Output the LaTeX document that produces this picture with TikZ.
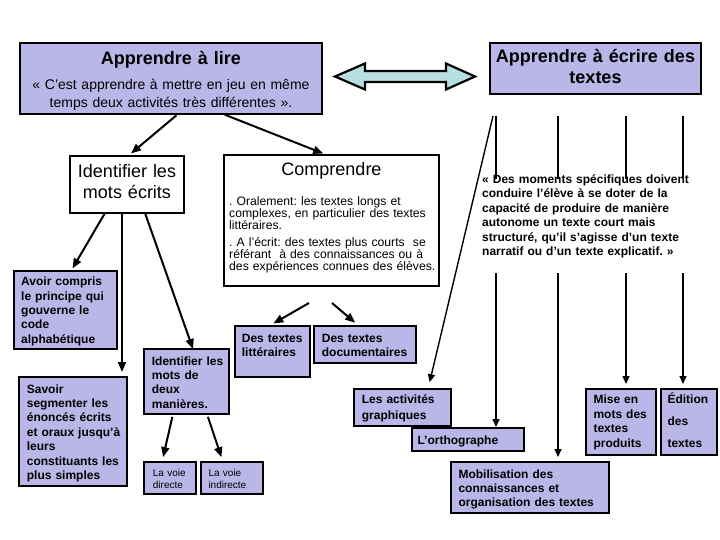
\documentclass[tikz,border=0pt]{standalone}
\usepackage{fontspec}
\setmainfont{Liberation Sans}
\usetikzlibrary{arrows.meta}
\definecolor{lavc}{RGB}{186,182,232}
\definecolor{cyanc}{RGB}{183,222,224}
\lineskiplimit=-30pt
\frenchspacing
\begin{document}
\begin{tikzpicture}[x=1pt,y=-1pt,
  box/.style={draw=black, line width=1.1pt, inner sep=0pt, outer sep=0pt, anchor=north west},
  lav/.style={box, fill=lavc},
  wht/.style={box, fill=white},
  tx/.style={inner sep=0pt, anchor=base west, align=left, text width=220pt},
  txc/.style={inner sep=0pt, anchor=base, align=center, text width=300pt},
  fb/.style={font=\fontsize{12}{14.4}\selectfont\bfseries},
  arr/.style={line width=2pt, -{Triangle[length=10pt,width=8pt]}},
  arrt/.style={line width=1.4pt, -{Triangle[length=8pt,width=7pt]}}
]
\fill[white] (0,0) rectangle (720,540);
\useasboundingbox (0,0) rectangle (720,540);

% ---- top boxes
\node[lav, minimum width=302pt, minimum height=71pt] (lire) at (20,43) {};
\node[txc, font=\fontsize{18}{21}\selectfont\bfseries] (lireT) at (171,64.3) {Apprendre à lire};
\node[txc, font=\fontsize{14}{17.7}\selectfont] (lireS) at (171,90) {« C'est apprendre à mettre en jeu en même\\temps deux activités très différentes ».};

\node[lav, minimum width=211pt, minimum height=51pt] (ecr) at (490,43) {};
\node[txc, text width=211pt, font=\fontsize{18}{21}\selectfont\bfseries] (ecrT) at (595.5,63) {Apprendre à écrire des\\textes};

% double arrow
\draw[line width=2.2pt, fill=cyanc, line join=miter]
  (335,76.5) -- (365,63.5) -- (365,71) -- (446,71) -- (446,63.5) -- (475,76.5)
  -- (446,89.5) -- (446,82) -- (365,82) -- (365,89.5) -- cycle;

% ---- left part
\node[wht, minimum width=114pt, minimum height=57pt] (idm) at (70,156) {};
\node[txc, text width=120pt, font=\fontsize{18}{21}\selectfont] (idmT) at (127,177.3) {Identifier les\\mots écrits};

\node[wht, minimum width=215pt, minimum height=131pt] (comp) at (224,155) {};
\node[txc, text width=210pt, font=\fontsize{18}{21}\selectfont] (compT) at (331.5,176) {Comprendre};
\node[tx, font=\fontsize{12.2}{11.8}\selectfont] (compA) at (229,206) {. Oralement: les textes longs et\\complexes, en particulier des textes\\littéraires.};
\node[tx, font=\fontsize{12.2}{11.8}\selectfont] (compB) at (229,246.7) {. A l'écrit: des textes plus courts\ \ se\\référant\ \ à des connaissances ou à\\des expériences connues des élèves.};

\node[lav, minimum width=103pt, minimum height=78pt] (avoir) at (14,271) {};
\node[tx, fb] (avoirT) at (21,285.7) {Avoir compris\\le principe qui\\gouverne le\\code\\alphabétique};

\node[lav, minimum width=108pt, minimum height=109pt] (savoir) at (19,377) {};
\node[tx, fb] (savoirT) at (26.7,393) {Savoir\\segmenter les\\énoncés écrits\\et oraux jusqu’à\\leurs\\constituants les\\plus simples};

\node[lav, minimum width=85pt, minimum height=65pt] (deux) at (144,349) {};
\node[tx, fb] (deuxT) at (151.7,365) {Identifier les\\mots de\\deux\\manières.};

\node[lav, minimum width=52pt, minimum height=32pt] (direct) at (144,462) {};
\node[tx, font=\fontsize{10}{12.5}\selectfont] (directT) at (152.7,476) {La voie\\directe};
\node[lav, minimum width=62pt, minimum height=32pt] (indir) at (201,462) {};
\node[tx, font=\fontsize{10}{12.5}\selectfont] (indirT) at (208.3,476) {La voie\\indirecte};

\node[lav, minimum width=75pt, minimum height=51pt] (litt) at (235,326) {};
\node[tx, fb] (littT) at (241.7,342) {Des textes\\littéraires};
\node[lav, minimum width=102pt, minimum height=37pt] (doc) at (314,326) {};
\node[tx, fb] (docT) at (321.7,342) {Des textes\\documentaires};

% ---- right part
\node[lav, minimum width=97pt, minimum height=37pt] (act) at (354,389) {};
\node[tx, font=\fontsize{12}{15.5}\selectfont\bfseries] (actT) at (361.7,403.5) {Les activités\\graphiques};
\node[lav, minimum width=112pt, minimum height=23pt] (orth) at (412,428) {};
\node[tx, fb] (orthT) at (417.3,444) {L’orthographe};
\node[lav, minimum width=158pt, minimum height=51pt] (mob) at (451,462) {};
\node[tx, fb] (mobT) at (458.3,478) {Mobilisation des\\connaissances et\\organisation des textes};
\node[lav, minimum width=70pt, minimum height=66pt] (mise) at (586,389) {};
\node[tx, font=\fontsize{12}{14.5}\selectfont\bfseries] (miseT) at (593.3,403.5) {Mise en\\mots des\\textes\\produits};
\node[lav, minimum width=56pt, minimum height=66pt] (edit) at (661,389) {};
\node[tx, font=\fontsize{12}{22}\selectfont\bfseries] (editT) at (667.3,403.5) {Édition\\des\\textes};

% ---- connectors (left)
\draw[arr, shorten <=2pt, shorten >=4pt] ([xshift=7pt]lire.south) -- ([xshift=1pt]idm.north);
\draw[arr, shorten <=2pt, shorten >=4pt] ([xshift=52pt]lire.south) -- ([xshift=-4.5pt]comp.north);
\draw[arr, shorten >=3pt] ([xshift=-22pt]idm.south) -- ([xshift=5.5pt]avoir.north);
\draw[arr, shorten >=5pt] ([xshift=-5pt]idm.south) -- ([xshift=49pt]savoir.north);
\draw[arr] ([xshift=18pt]idm.south) -- ([xshift=6.5pt]deux.north);
\draw[arr, shorten <=3pt, shorten >=5pt] ([xshift=-13.5pt]deux.south) -- ([xshift=-8pt]direct.north);
\draw[arr, shorten <=3pt, shorten >=5pt] ([xshift=20.5pt]deux.south) -- ([xshift=-9pt]indir.north);
\coordinate (cs1) at (309,303);
\coordinate (cs2) at (332,303);
\draw[arr, shorten >=5pt] (cs1) -- ([xshift=-3.5pt]litt.north);
\draw[arr, shorten >=5pt] (cs2) -- ([xshift=-6pt]doc.north);

% ---- connectors (right)
\coordinate (e0) at (493,116);
\coordinate (e1) at (496,116);
\coordinate (e2) at (558,116);
\coordinate (e3) at (626,116);
\coordinate (e4) at (683,116);
\draw[arrt, shorten >=7pt] (e0) -- ([xshift=25.5pt]act.north);
\draw[arrt, shorten >=1pt] (e1) -- (e1 |- orth.north);
\draw[arrt, shorten >=5pt] (e2) -- (e2 |- mob.north);
\draw[arrt, shorten >=5pt] (e3) -- (e3 |- mise.north);
\draw[arrt, shorten >=5pt] (e4) -- (e4 |- edit.north);

% quotation text on white
\fill[white] (480,179) rectangle (690,273);
\node[tx, font=\fontsize{12}{14.5}\selectfont\bfseries] (momT) at (482,183.5) {« Des moments spécifiques doivent\\conduire l’élève à se doter de la\\capacité de produire de manière\\autonome un texte court mais\\structuré, qu’il s’agisse d’un texte\\narratif ou d’un texte explicatif. »};
\end{tikzpicture}
\end{document}
